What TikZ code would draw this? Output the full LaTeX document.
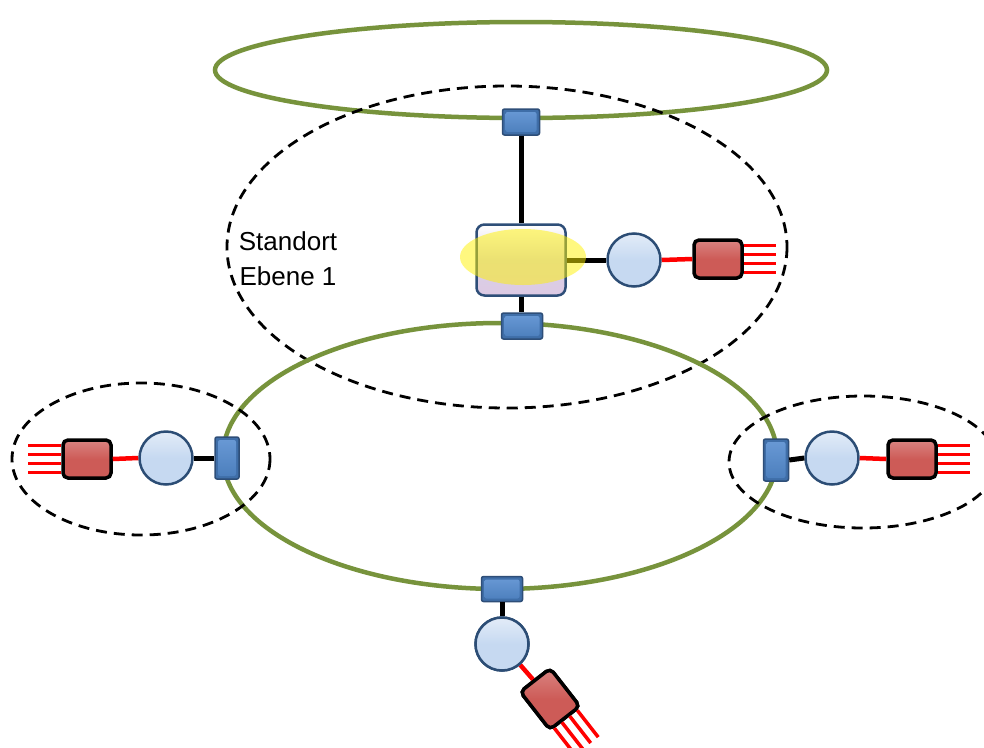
\documentclass[tikz,border=0pt]{standalone}
\usepackage{fontspec}
\setmainfont{Liberation Sans}
\usetikzlibrary{calc}
\definecolor{ringgreen}{HTML}{77933C}
\definecolor{portblue}{HTML}{4A7DBB}
\definecolor{portdark}{HTML}{3F6EA8}
\definecolor{portedge}{HTML}{2E4E78}
\definecolor{portlight}{HTML}{6A9AD6}
\definecolor{nodeblue}{HTML}{C6D9F1}
\definecolor{nodeedge}{HTML}{2C4D75}
\definecolor{boxred}{HTML}{CD5B57}
\definecolor{swlav}{HTML}{D8D0E6}
\tikzset{
  ring/.style={draw=ringgreen, line width=4.5pt},
  zone/.style={draw=black, line width=2.8pt, dash pattern=on 11pt off 7pt},
  port/.style={rectangle, draw=portedge, line width=1.5pt, rounded corners=2pt,
    inner sep=0pt, fill=portdark,
    path picture={\fill[top color=portlight, bottom color=portblue]
      ($(path picture bounding box.south west)+(3pt,3pt)$) rectangle
      ($(path picture bounding box.north east)+(-3pt,-3pt)$);}},
  switchbox/.style={rectangle, draw=portedge, line width=2.5pt, rounded corners=8pt,
    inner sep=0pt, minimum width=89pt, minimum height=71pt,
    top color=white, bottom color=swlav!80!violet!60!white, middle color=swlav},
  station/.style={circle, draw=nodeedge, line width=2.5pt, inner sep=0pt,
    minimum size=53pt, top color=nodeblue!50!white, bottom color=nodeblue, middle color=nodeblue},
  redbox/.style={rectangle, draw=black, line width=3.5pt, rounded corners=5pt, inner sep=0pt,
    minimum width=48pt, minimum height=38pt, top color=boxred!75!white, bottom color=boxred, middle color=boxred},
  blk/.style={draw=black, line width=5pt},
  rline/.style={draw=red, line width=4.5pt},
  pin/.style={draw=red, line width=3.5pt},
  hilite/.style={fill=yellow, fill opacity=0.5, draw=none}
}
\begin{document}
\begin{tikzpicture}[x=1pt,y=-1pt]
\path[use as bounding box, fill=white] (0,0) rectangle (984,747);

% rings and zones
\draw[ring] (521,70) ellipse [x radius=306, y radius=48];
\draw[zone] (507,247) ellipse [x radius=280, y radius=161];
\draw[ring] (500,456) ellipse [x radius=277, y radius=133];
\draw[zone] (141,459) ellipse [x radius=129, y radius=76];
\draw[zone] (863,462) ellipse [x radius=134, y radius=66];

% label
\node[align=center, font=\fontsize{26}{35}\selectfont, inner sep=0pt] (lbl) at (288,259) {Standort\\Ebene 1};

% central site
\node[port, minimum width=37pt, minimum height=26pt] (p1) at (521,122) {};
\node[switchbox] (sw) at (521,260) {};
\node[port, minimum width=41pt, minimum height=26pt] (p2) at (522,326) {};
\node[station] (c1) at (634,260) {};
\node[redbox] (r1) at (718,259) {};
\draw[blk] (p1.south) -- (sw.north);
\draw[blk] (sw.south) -- (sw.south |- p2.north);
\draw[blk] (sw.east) -- (c1.west);
\draw[rline] (c1.east) -- (r1.west);
\foreach \k in {-13.5,-4.5,4.5,13.5} \draw[pin] ($(r1.east)+(0,\k)$) -- ++(32,0);
\fill[hilite] (523,257) ellipse [x radius=63, y radius=28];

% left site
\node[port, minimum width=24pt, minimum height=42pt] (p3) at (227,458) {};
\node[station] (c2) at (166,458) {};
\node[redbox] (r2) at (87,459) {};
\draw[blk] (p3.west) -- (c2.east);
\draw[rline] (c2.west) -- (r2.east);
\foreach \k in {-13.5,-4.5,4.5,13.5} \draw[pin] ($(r2.west)+(0,\k)$) -- ++(-33,0);

% right site
\node[port, minimum width=25pt, minimum height=42pt] (p4) at (776,460) {};
\node[station] (c3) at (832,458) {};
\node[redbox] (r3) at (912,459) {};
\draw[blk] (p4.east) -- (c3.west);
\draw[rline] (c3.east) -- (r3.west);
\foreach \k in {-13.5,-4.5,4.5,13.5} \draw[pin] ($(r3.east)+(0,\k)$) -- ++(32,0);

% bottom site
\node[port, minimum width=41pt, minimum height=25pt] (p5) at (502,589) {};
\node[station] (c4) at (502,644) {};
\node[redbox, rotate=-52] (r4) at (550,699) {};
\draw[blk] (p5.south) -- (c4.north);
\draw[rline] (c4) -- (r4);
\node[station] at (c4) {};
\node[redbox, rotate=-52] at (r4) {};
\foreach \f in {0.15,0.38,0.62,0.85} \draw[pin] ($(r4.north east)!\f!(r4.south east)$) -- ++(-52:34pt);
\end{tikzpicture}
\end{document}
